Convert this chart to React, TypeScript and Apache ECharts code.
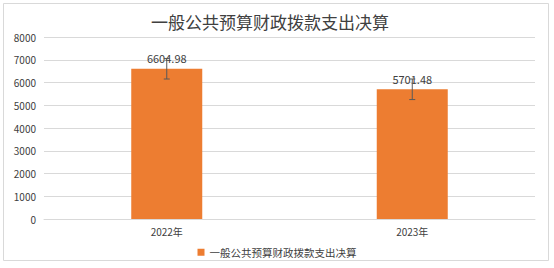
import React, { useEffect, useRef } from "react";
import * as echarts from "echarts";

const categories = ["2022年", "2023年"];
const values = [6604.98, 5701.48];
const errorAmount = 451.75; // standard error
const yTicks = [0, 1000, 2000, 3000, 4000, 5000, 6000, 7000, 8000];
const seriesName = "一般公共预算财政拨款支出决算";
const titleText = "一般公共预算财政拨款支出决算";

const FONT = "'Noto Sans CJK SC', 'Noto Sans', sans-serif";

export default function App() {
  const ref = useRef<HTMLDivElement>(null);
  useEffect(() => {
    document.body.style.margin = "0";
    const chart = echarts.init(ref.current!, null, { renderer: "svg" });
    const errData = values.map((v, i) => [i, v - errorAmount, v + errorAmount]);
    chart.setOption({
      animation: false,
      backgroundColor: "#ffffff",
      textStyle: { fontFamily: FONT },
      title: {
        text: titleText,
        left: 146,
        top: 8,
        textStyle: { fontSize: 17, fontWeight: "normal", color: "#404040", fontFamily: FONT },
      },
      graphic: [
        {
          type: "rect",
          shape: { x: 3.5, y: 3.5, width: 545, height: 257 },
          style: { fill: "none", stroke: "#d9d9d9", lineWidth: 1 },
          silent: true,
        },
      ],
      grid: { left: 44, right: 19, top: 37, bottom: 49 },
      legend: {
        data: [seriesName],
        left: "center",
        top: 242,
        itemWidth: 7,
        itemHeight: 7,
        icon: "rect",
        textStyle: { fontSize: 10.5, color: "#404040", fontFamily: FONT },
      },
      xAxis: {
        type: "category",
        data: categories,
        axisLine: { lineStyle: { color: "#d9d9d9" } },
        axisTick: { show: false },
        axisLabel: { fontSize: 10, color: "#404040", margin: 7, fontFamily: FONT },
      },
      yAxis: {
        type: "value",
        min: yTicks[0],
        max: yTicks[yTicks.length - 1],
        interval: 1000,
        axisLine: { show: false },
        axisTick: { show: false },
        splitLine: { lineStyle: { color: "#d9d9d9" } },
        axisLabel: {
          fontSize: 10,
          color: "#404040",
          margin: 8,
          fontFamily: FONT,
          formatter: (v: number) => String(v),
        },
      },
      series: [
        {
          name: seriesName,
          type: "bar",
          data: values,
          barWidth: 71,
          itemStyle: { color: "#ED7D31" },
          label: {
            show: true,
            position: "top",
            distance: 5,
            fontSize: 11,
            color: "#404040",
            fontFamily: FONT,
            formatter: (p: any) => p.value.toFixed(2),
          },
        },
        {
          type: "custom",
          name: "err",
          data: errData,
          z: 10,
          renderItem: (params: any, api: any) => {
            const x = api.value(0);
            const lo = api.coord([x, api.value(1)]);
            const hi = api.coord([x, api.value(2)]);
            const cap = 3;
            const style = { stroke: "#595959", lineWidth: 1 };
            return {
              type: "group",
              children: [
                { type: "line", shape: { x1: hi[0], y1: hi[1], x2: lo[0], y2: lo[1] }, style },
                { type: "line", shape: { x1: hi[0] - cap, y1: hi[1], x2: hi[0] + cap, y2: hi[1] }, style },
                { type: "line", shape: { x1: lo[0] - cap, y1: lo[1], x2: lo[0] + cap, y2: lo[1] }, style },
              ],
            };
          },
        },
      ],
    });
    return () => chart.dispose();
  }, []);
  return <div ref={ref} style={{ width: 554, height: 268 }} />;
}
